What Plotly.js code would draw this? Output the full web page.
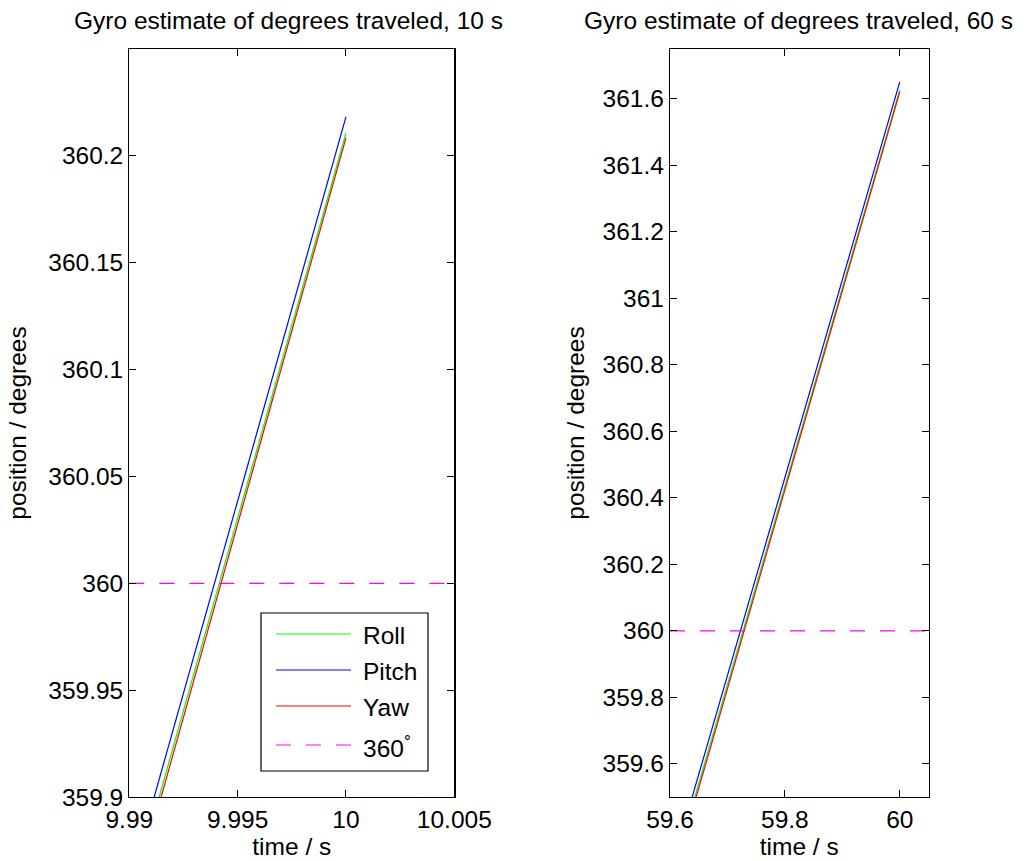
<!DOCTYPE html>
<html>
<head>
<meta charset="utf-8">
<script src="https://cdn.plot.ly/plotly-3.0.1.min.js"></script>
<style>
  html, body { margin: 0; padding: 0; background: #fff; }
  #chart { width: 1025px; height: 861px; }
</style>
</head>
<body>
<div id="chart"></div>
<script>
// Gyro position estimates around the end of a 10 s run and a 60 s run (degrees)
const seriesNames = ['Roll', 'Pitch', 'Yaw'];
const seriesColors = ['#00ff00', '#0000ff', '#ff0000'];
const refName = '360<sup>°</sup>';
const refColor = '#ff00ff';
const refLevel = 360;

// 10 s run
const time10 = [9.990, 9.995, 10.000];
const roll10 = [359.8503, 360.0305, 360.2107];
const pitch10 = [359.8587, 360.0384, 360.2182];
const yaw10 = [359.8469, 360.0276, 360.2084];

// 60 s run
const time60 = [59.6, 59.8, 60.0];
const roll60 = [359.2418, 360.4344, 361.627];
const pitch60 = [359.2703, 360.4606, 361.651];
const yaw60 = [359.2271, 360.4240, 361.621];

// axis ranges and ticks
const xRange10 = [9.99, 10.005];
const yRange10 = [359.9, 360.25];
const xTicks10 = [9.99, 9.995, 10, 10.005];
const xTickText10 = ['9.99', '9.995', '10', '10.005'];
const yTicks10 = [359.9, 359.95, 360, 360.05, 360.1, 360.15, 360.2];
const yTickText10 = ['359.9', '359.95', '360', '360.05', '360.1', '360.15', '360.2'];

const xRange60 = [59.6, 60.05];
const yRange60 = [359.5, 361.75];
const xTicks60 = [59.6, 59.8, 60];
const xTickText60 = ['59.6', '59.8', '60'];
const yTicks60 = [359.6, 359.8, 360, 360.2, 360.4, 360.6, 360.8, 361, 361.2, 361.4, 361.6];
const yTickText60 = ['359.6', '359.8', '360', '360.2', '360.4', '360.6', '360.8', '361', '361.2', '361.4', '361.6'];

const titles = ['Gyro estimate of degrees traveled, 10 s', 'Gyro estimate of degrees traveled, 60 s'];
const xLabel = 'time / s';
const yLabel = 'position / degrees';

const W = 1025, H = 861;
const px = v => v / W;
const py = v => 1 - v / H;

const FONT = { family: '"Liberation Sans", Arial, Helvetica, sans-serif', size: 24.5, color: '#000' };

function seriesTraces(t, vals, xa, ya) {
  return vals.map((v, i) => ({
    type: 'scatter', mode: 'lines', x: t, y: v, name: seriesNames[i],
    line: { color: seriesColors[i], width: 1.2 },
    xaxis: xa, yaxis: ya, showlegend: false, hoverinfo: 'skip'
  }));
}
function refTrace(range, xa, ya) {
  return {
    type: 'scatter', mode: 'lines', x: range, y: [refLevel, refLevel], name: refName,
    line: { color: refColor, width: 1.2, dash: '15px,15px' },
    xaxis: xa, yaxis: ya, showlegend: false, hoverinfo: 'skip'
  };
}

const data = [
  ...seriesTraces(time10, [roll10, pitch10, yaw10], 'x', 'y'),
  refTrace(xRange10, 'x', 'y'),
  ...seriesTraces(time60, [roll60, pitch60, yaw60], 'x2', 'y2'),
  refTrace(xRange60, 'x2', 'y2')
];

function axis(extra) {
  return Object.assign({
    showline: true, linecolor: '#000', linewidth: 1.2, mirror: 'ticks',
    ticks: 'inside', ticklen: 7, tickwidth: 1, tickcolor: '#000',
    showgrid: false, zeroline: false, tickmode: 'array',
    tickfont: FONT, fixedrange: true
  }, extra);
}

const dom10 = [px(129.3), px(454.3)];
const dom60 = [px(670), px(928.5)];
const domY = [py(797), py(49)];

// legend drawn inside the 10 s panel
const legBox = { x0: 261, x1: 428, y0: 613, y1: 771 };
const legRows = [634, 670, 706, 745];
const legLine = [276, 351];
const legText = 361;
const legendEntries = seriesNames.map((n, i) => ({ name: n, color: seriesColors[i], dash: 'solid' }))
  .concat([{ name: refName, color: refColor, dash: '15px,15px' }]);

const shapes = [{
  type: 'rect', xref: 'paper', yref: 'paper',
  x0: px(legBox.x0), x1: px(legBox.x1), y0: py(legBox.y1), y1: py(legBox.y0),
  line: { color: '#000', width: 1.2 }, fillcolor: '#fff', layer: 'above'
}].concat(legendEntries.map((e, i) => ({
  type: 'line', xref: 'paper', yref: 'paper',
  x0: px(legLine[0]), x1: px(legLine[1]), y0: py(legRows[i]), y1: py(legRows[i]),
  line: { color: e.color, width: 1.2, dash: e.dash }, layer: 'above'
})));

const annotations = [
  { text: titles[0], x: (dom10[0] + dom10[1]) / 2 - px(3), y: py(20) },
  { text: titles[1], x: (dom60[0] + dom60[1]) / 2 - px(1), y: py(20) }
].map(a => Object.assign(a, {
  xref: 'paper', yref: 'paper', xanchor: 'center', yanchor: 'middle',
  showarrow: false, font: FONT
})).concat(legendEntries.map((e, i) => ({
  text: e.name, xref: 'paper', yref: 'paper', x: px(legText), y: py(legRows[i] + 1),
  xanchor: 'left', yanchor: 'middle', showarrow: false, font: FONT
})));

const layout = {
  width: W, height: H,
  margin: { l: 0, r: 0, t: 0, b: 0 },
  paper_bgcolor: '#fff', plot_bgcolor: '#fff',
  font: FONT,
  showlegend: false,
  xaxis: axis({ domain: dom10, range: xRange10, tickvals: xTicks10, ticktext: xTickText10, anchor: 'y',
    title: { text: xLabel, font: FONT, standoff: 4 } }),
  yaxis: axis({ domain: domY, range: yRange10, tickvals: yTicks10, ticktext: yTickText10, anchor: 'x',
    title: { text: yLabel, font: FONT, standoff: 14 } }),
  xaxis2: axis({ domain: dom60, range: xRange60, tickvals: xTicks60, ticktext: xTickText60, anchor: 'y2',
    title: { text: xLabel, font: FONT, standoff: 4 } }),
  yaxis2: axis({ domain: domY, range: yRange60, tickvals: yTicks60, ticktext: yTickText60, anchor: 'x2',
    title: { text: yLabel, font: FONT, standoff: 11 } }),
  shapes: shapes,
  annotations: annotations
};

Plotly.newPlot('chart', data, layout, { staticPlot: true, displayModeBar: false });
</script>
</body>
</html>
